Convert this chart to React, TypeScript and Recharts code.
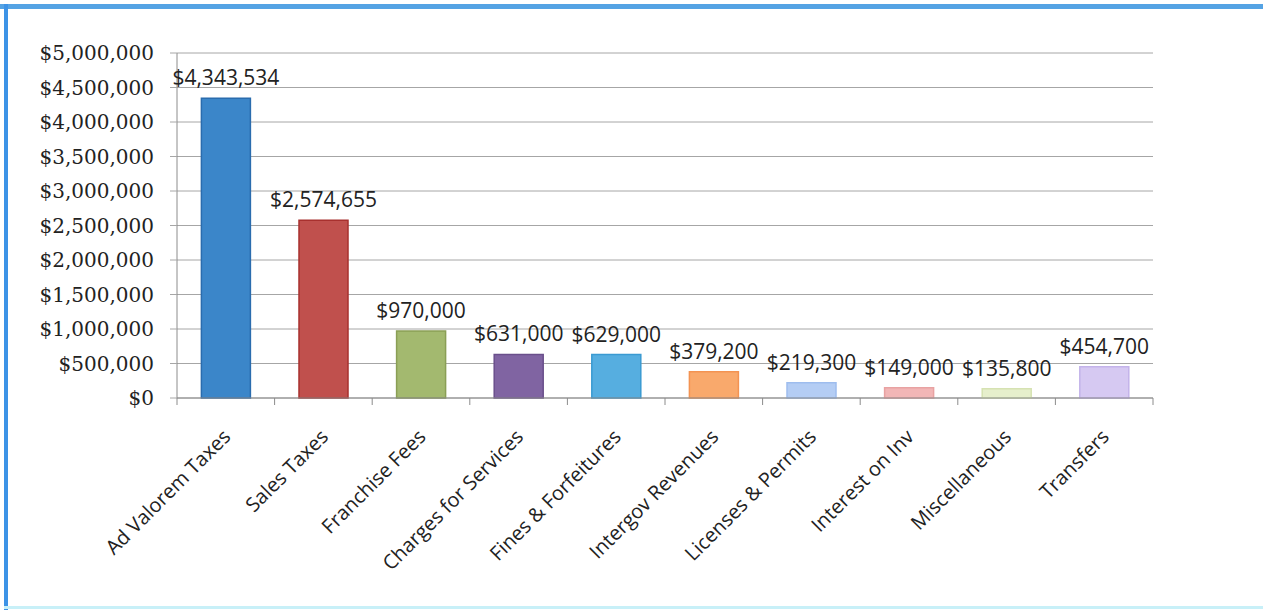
import React from "react";
import { BarChart, Bar, XAxis, YAxis, CartesianGrid, Cell, LabelList } from "recharts";

const CATEGORIES = [
  "Ad Valorem Taxes",
  "Sales Taxes",
  "Franchise Fees",
  "Charges for Services",
  "Fines & Forfeitures",
  "Intergov Revenues",
  "Licenses & Permits",
  "Interest on Inv",
  "Miscellaneous",
  "Transfers",
];
const AMOUNTS = [4343534, 2574655, 970000, 631000, 629000, 379200, 219300, 149000, 135800, 454700];
const Y_TICKS = [0, 500000, 1000000, 1500000, 2000000, 2500000, 3000000, 3500000, 4000000, 4500000, 5000000];

const FILLS = ["#3b86c9", "#c0504d", "#a3b96f", "#8064a2", "#56aee0", "#f9a96c", "#b4cdf4", "#f2b6b6", "#e6efcc", "#d6c9f2"];
const STROKES = ["#2a6cae", "#a8302e", "#8a9f55", "#6a4f8b", "#3a9ad2", "#f39352", "#9ebdee", "#e8a2a2", "#d6e2b2", "#c3b3ea"];

const W = 1263;
const H = 610;
const PLOT_LEFT = 177;
const PLOT_RIGHT = 1153;
const PLOT_TOP = 53;
const PLOT_BOTTOM = 398;
const HALF_BAND = (PLOT_RIGHT - PLOT_LEFT) / CATEGORIES.length / 2;

const data = CATEGORIES.map((name, i) => ({ name, amount: AMOUNTS[i] }));

const money = (v: number) => "$" + Number(v).toLocaleString("en-US");

// excel-style ticks sit between categories, labels slanted at 45deg
function CategoryTick(props: any) {
  const { x, y, payload, index } = props;
  const last = index === CATEGORIES.length - 1;
  const tx = x + 6;
  const ty = y + 40;
  return (
    <g>
      <line x1={x - HALF_BAND} y1={y} x2={x - HALF_BAND} y2={y + 7} stroke="#8c8c8c" />
      {last && <line x1={x + HALF_BAND} y1={y} x2={x + HALF_BAND} y2={y + 7} stroke="#8c8c8c" />}
      <text
        x={tx}
        y={ty}
        transform={`rotate(-45, ${tx}, ${ty})`}
        textAnchor="end"
        fontFamily="'Open Sans', sans-serif"
        fontSize={20}
        fill="#222"
      >
        {payload.value}
      </text>
    </g>
  );
}

export default function App() {
  return (
    <div style={{ position: "absolute", left: 0, top: 0, width: W, height: H, background: "#fff", overflow: "hidden" }}>
      <div style={{ position: "absolute", left: 0, top: 4, width: W, height: 5, background: "#55a3e4" }} />
      <div style={{ position: "absolute", left: 4, top: 4, width: 4, height: H - 4, background: "#3d93e6" }} />
      <div style={{ position: "absolute", left: 4, top: H - 4, width: W, height: 3, background: "#c8f0f8" }} />
      <div style={{ position: "absolute", left: 0, top: 0 }}>
        <BarChart
          width={W}
          height={H}
          data={data}
          margin={{ top: PLOT_TOP, right: W - PLOT_RIGHT, bottom: 0, left: 0 }}
          barCategoryGap="25%"
        >
          <CartesianGrid vertical={false} stroke="#a6a6a6" />
          <YAxis
            width={PLOT_LEFT}
            domain={[0, 5000000]}
            ticks={Y_TICKS}
            interval={0}
            tickFormatter={money}
            axisLine={{ stroke: "#8c8c8c" }}
            tickLine={{ stroke: "#a6a6a6" }}
            tickSize={7}
            tickMargin={16}
            tick={{ fontFamily: "'DejaVu Serif', serif", fontSize: 20, fill: "#222" }}
          />
          <XAxis
            dataKey="name"
            interval={0}
            axisLine={{ stroke: "#8c8c8c" }}
            tickLine={false}
            tickSize={0}
            tickMargin={0}
            height={H - PLOT_BOTTOM}
            tick={<CategoryTick />}
          />
          <Bar dataKey="amount" isAnimationActive={false}>
            {data.map((d, i) => (
              <Cell key={d.name} fill={FILLS[i]} stroke={STROKES[i]} strokeWidth={1.5} />
            ))}
            <LabelList
              dataKey="amount"
              position="top"
              offset={13}
              formatter={(v: any) => money(v)}
              style={{ fontFamily: "'Open Sans', sans-serif", fontSize: 21, fill: "#222" }}
            />
          </Bar>
        </BarChart>
      </div>
    </div>
  );
}
